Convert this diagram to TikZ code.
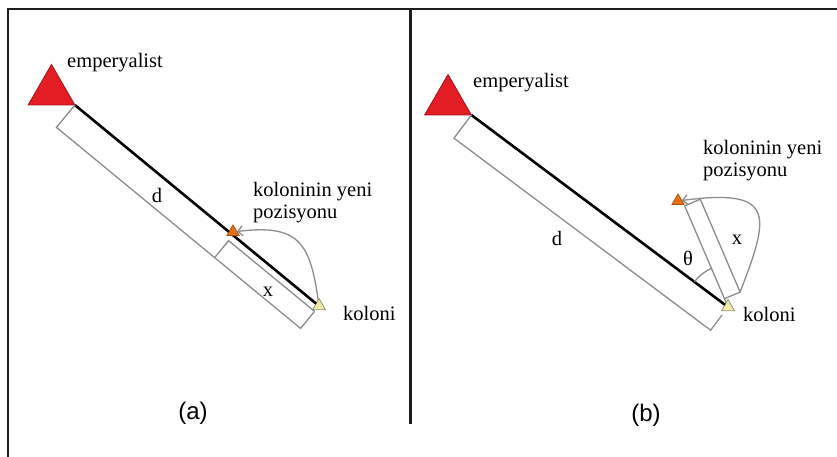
\documentclass[tikz,border=0pt]{standalone}
\usepackage{fontspec}
\setmainfont{Liberation Serif}
\newfontfamily\capfont{Liberation Sans}
\usetikzlibrary{angles,quotes,arrows.meta,calc,shapes.geometric}

\definecolor{empred}{RGB}{228,28,36}
\definecolor{yeniorange}{RGB}{232,110,20}
\definecolor{kolfill}{RGB}{240,232,170}
\definecolor{kolline}{RGB}{150,148,120}
\definecolor{dimgrey}{RGB}{140,140,140}
\definecolor{framegrey}{RGB}{30,30,30}

\begin{document}
\begin{tikzpicture}[x=1pt,y=-1pt,
  tri/.style={regular polygon,regular polygon sides=3,inner sep=0pt,outer sep=0pt,draw,line width=0.8pt},
  emp/.style={tri,minimum size=54pt,fill=empred,draw=empred!70!black},
  kol/.style={tri,minimum size=15pt,fill=kolfill,draw=kolline},
  yeni/.style={tri,minimum size=14pt,fill=yeniorange,draw=yeniorange!75!black},
  link/.style={line width=2.6pt,black},
  dim/.style={line width=1.3pt,dimgrey},
  move/.style={dim,-{Straight Barb[length=5pt,width=10pt]}},
  lbl/.style={font=\fontsize{20.5}{22}\selectfont,inner sep=1pt,anchor=west},
  captxt/.style={font=\capfont\fontsize{24}{26}\selectfont}]
\useasboundingbox (0,0) rectangle (837,457);

% Frame
\draw[framegrey,line width=2.2pt] (837,9) -- (8,9) -- (8,457);
\draw[framegrey,line width=3pt] (410,9) -- (410,424);

%% (a) colony moves along the line
\node[emp] (empA) at (51.5,91.5) {};
\node[kol] (kolA) at (319,306) {};
\coordinate (eA) at (empA.corner 3);
\draw[link] (eA) -- (kolA);
\node[yeni] (oA) at (233,232) {};

% Distance brackets
\coordinate (pA) at ($(eA)!0.648!(kolA)$);
\coordinate (dA1) at ($(eA)!29pt!-90:(kolA)$);
\coordinate (dA2) at ($(kolA)!29pt!90:(eA)$);
\coordinate (xA1) at ($(pA)!7pt!-90:(kolA)$);
\coordinate (xA2) at ($(pA)!29pt!-90:(kolA)$);
\coordinate (xA3) at ($(kolA)!7pt!90:(eA)$);
\draw[dim] (eA) -- (dA1) -- (dA2) -- (xA3);
\draw[dim] (xA2) -- (xA1) -- (xA3);
\draw[move] (kolA) .. controls (310,242) and (298,224) .. (oA);

\node[lbl] (empAl) at (66,63) {emperyalist};
\node[lbl] (kolAl) at (342,313) {koloni};
\node[lbl,align=left] (yeniAl) at (252,203) {koloninin yeni\\pozisyonu};
\node[lbl,anchor=center] (dA) at (157,195) {d};
\node[lbl,anchor=center] (xA) at (268,292) {x};
\node[captxt] (capA) at (193,413) {(a)};

%% (b) colony moves off the line by angle theta
\node[emp] (empB) at (448,101.5) {};
\node[kol] (kolB) at (728,307) {};
\coordinate (eB) at (empB.corner 3);
\draw[link] (eB) -- (kolB);
\node[yeni] (oB) at (678,201) {};

\coordinate (dB1) at ($(eB)!29pt!-90:(kolB)$);
\coordinate (dB2) at ($(kolB)!29pt!90:(eB)$);
\coordinate (dB3) at ($(kolB)!10pt!90:(eB)$);
\draw[dim] (eB) -- (dB1) -- (dB2) -- (dB3);

\coordinate (tB) at ($(kolB)!110pt!-30:(eB)$);
\coordinate (xB1) at ($(kolB)!9pt!(tB)$);
\coordinate (xB2) at ($(xB1)!17pt!-90:(tB)$);
\coordinate (xB4) at ($(tB)!17pt!90:(kolB)$);
\draw[dim] (kolB) -- (tB);
\draw[dim] (xB1) -- (xB2) -- (xB4) -- (tB);
\pic[dim,draw,angle radius=42pt] {angle=tB--kolB--eB};
\draw[move] (xB2) .. controls (770,215) and (776,188) .. (oB);

\node[lbl] (empBl) at (472,83) {emperyalist};
\node[lbl] (kolBl) at (742,314) {koloni};
\node[lbl,align=left] (yeniBl) at (702,161) {koloninin yeni\\pozisyonu};
\node[lbl,anchor=center] (dB) at (557,238) {d};
\node[lbl,anchor=center] (xB) at (737,240) {x};
\node[lbl,anchor=center] (thB) at (688,258) {θ};
\node[captxt] (capB) at (646,415) {(b)};
\end{tikzpicture}
\end{document}
